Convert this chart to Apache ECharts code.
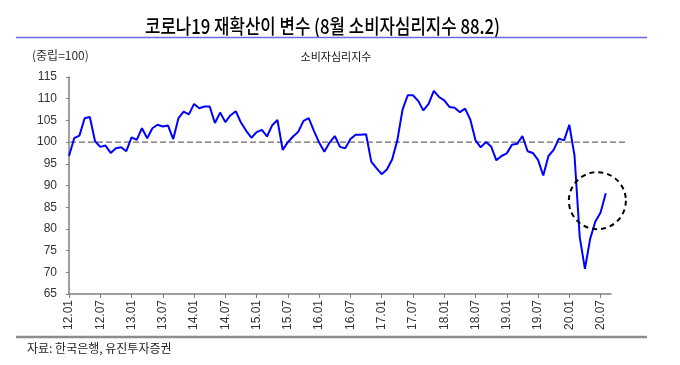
<!DOCTYPE html>
<html>
<head>
<meta charset="utf-8">
<script src="https://cdn.jsdelivr.net/npm/echarts@6/dist/echarts.min.js"></script>
<style>
html,body{margin:0;padding:0;background:#fff;}
#c{width:680px;height:365px;}
</style>
</head>
<body>
<div id="c"></div>
<script>
// ---- data ----
const years = ['12','13','14','15','16','17','18','19','20'];
const months = ['01','02','03','04','05','06','07','08','09','10','11','12'];
const categories = [];
years.forEach(y => months.forEach(m => categories.push(y + '.' + m)));
categories.length = 105; // 12.01 ... 20.09 (axis runs one month past the last value)

const cci2012 = [96.8, 100.9, 101.5, 105.5, 105.8, 100.2, 98.9, 99.2, 97.5, 98.6, 98.8, 97.9];
const cci2013 = [101.1, 100.5, 103.2, 100.9, 103.2, 104.0, 103.6, 103.8, 100.7, 105.5, 107.0, 106.4];
const cci2014 = [108.8, 107.8, 108.2, 108.2, 104.4, 106.8, 104.6, 106.2, 107.1, 104.5, 102.6, 101.0];
const cci2015 = [102.3, 102.8, 101.3, 103.9, 105.1, 98.2, 100.0, 101.3, 102.4, 104.9, 105.5, 102.6];
const cci2016 = [99.9, 97.8, 99.9, 101.4, 98.9, 98.6, 100.7, 101.7, 101.7, 101.8, 95.5, 94.0];
const cci2017 = [92.6, 93.7, 96.0, 100.4, 107.5, 110.8, 110.8, 109.5, 107.3, 108.8, 111.8, 110.4];
const cci2018 = [109.6, 108.1, 107.9, 106.9, 107.7, 105.2, 100.4, 98.8, 100.0, 99.0, 95.8, 96.8];
const cci2019 = [97.4, 99.4, 99.6, 101.4, 97.9, 97.5, 95.9, 92.3, 96.8, 98.2, 100.8, 100.4];
const cci2020 = [104.0, 96.9, 78.1, 70.8, 77.7, 81.7, 83.8, 88.2];
const cciValues = [].concat(cci2012, cci2013, cci2014, cci2015, cci2016, cci2017, cci2018, cci2019, cci2020);

const neutralLevel = 100;
const circleCategory = '20.06';
const circleValue = 86.5;

const titleText = '코로나19 재확산이 변수 (8월 소비자심리지수 88.2)';
const unitText = '(중립=100)';
const seriesName = '소비자심리지수';
const sourceText = '자료: 한국은행, 유진투자증권';

// ---- chart ----
const KR = '"Noto Sans CJK KR", "Noto Sans", sans-serif';
const NUM = '"Liberation Sans", Arial, sans-serif';

const mctx = document.createElement('canvas').getContext('2d');
mctx.font = '500 20px "Noto Sans CJK KR"';
const titleW = mctx.measureText(titleText).width;
const titleScale = 355 / titleW;

const chart = echarts.init(document.getElementById('c'), null, {renderer: 'canvas'});
const gridTop = 77, gridBottom = 71;
chart.setOption({
  animation: false,
  backgroundColor: '#fff',
  grid: [
    {left: 69, right: 69, top: gridTop, bottom: gridBottom},
    {left: 70, right: 53, top: gridTop, bottom: gridBottom}
  ],
  xAxis: [
    {
      type: 'category', gridIndex: 0, data: categories, boundaryGap: false,
      axisLine: {lineStyle: {color: '#808080', width: 1.5}},
      axisTick: {interval: 5, length: 4, lineStyle: {color: '#808080', width: 1}},
      axisLabel: {interval: 5, rotate: 90, margin: 6, fontSize: 12, color: '#333', fontFamily: NUM},
      splitLine: {show: false}
    },
    {type: 'value', gridIndex: 1, min: 0, max: 1, show: false}
  ],
  yAxis: [
    {
      type: 'value', gridIndex: 0, min: 65, max: 115, interval: 5,
      axisLine: {show: true, lineStyle: {color: '#808080', width: 1.5}},
      axisTick: {show: true, length: 3, lineStyle: {color: '#808080', width: 1}},
      axisLabel: {margin: 12, fontSize: 12, color: '#333', fontFamily: NUM},
      splitLine: {show: false}
    },
    {type: 'value', gridIndex: 1, min: 65, max: 115, show: false}
  ],
  series: [
    {
      type: 'line', xAxisIndex: 1, yAxisIndex: 1, z: 1,
      data: [[0, neutralLevel], [1, neutralLevel]],
      symbol: 'none', silent: true,
      lineStyle: {color: '#444', width: 1, type: [6, 3]}
    },
    {
      name: seriesName, type: 'line', xAxisIndex: 0, yAxisIndex: 0, z: 3,
      data: cciValues, symbol: 'none', smooth: false,
      lineStyle: {color: '#0000ff', width: 2},
      markPoint: {
        silent: true,
        symbol: 'circle', symbolSize: 57, symbolOffset: [2, 0],
        label: {show: false},
        itemStyle: {color: 'rgba(0,0,0,0)', borderColor: '#000', borderWidth: 2, borderType: [5, 4]},
        data: [{coord: [circleCategory, circleValue]}]
      }
    }
  ],
  graphic: [
    {type: 'text', x: 145, y: 26, scaleX: titleScale, scaleY: 1,
     style: {text: titleText, font: '500 20px ' + KR, fill: '#000', textVerticalAlign: 'middle', textAlign: 'left'}},
    {type: 'line', shape: {x1: 16, y1: 37.5, x2: 647, y2: 37.5},
     style: {stroke: '#6b6be0', lineWidth: 1.5}},
    {type: 'text', x: 32, y: 55,
     style: {text: unitText, font: '12px ' + KR, fill: '#333', textVerticalAlign: 'middle', textAlign: 'left'}},
    {type: 'text', x: 336, y: 57,
     style: {text: seriesName, font: '11px ' + KR, fill: '#111', textVerticalAlign: 'middle', textAlign: 'center'}},
    {type: 'line', shape: {x1: 16, y1: 337, x2: 647, y2: 337},
     style: {stroke: '#8c8c8c', lineWidth: 2.5}},
    {type: 'text', x: 27, y: 348,
     style: {text: sourceText, font: '12px ' + KR, fill: '#222', textVerticalAlign: 'middle', textAlign: 'left'}}
  ]
});
</script>
</body>
</html>
